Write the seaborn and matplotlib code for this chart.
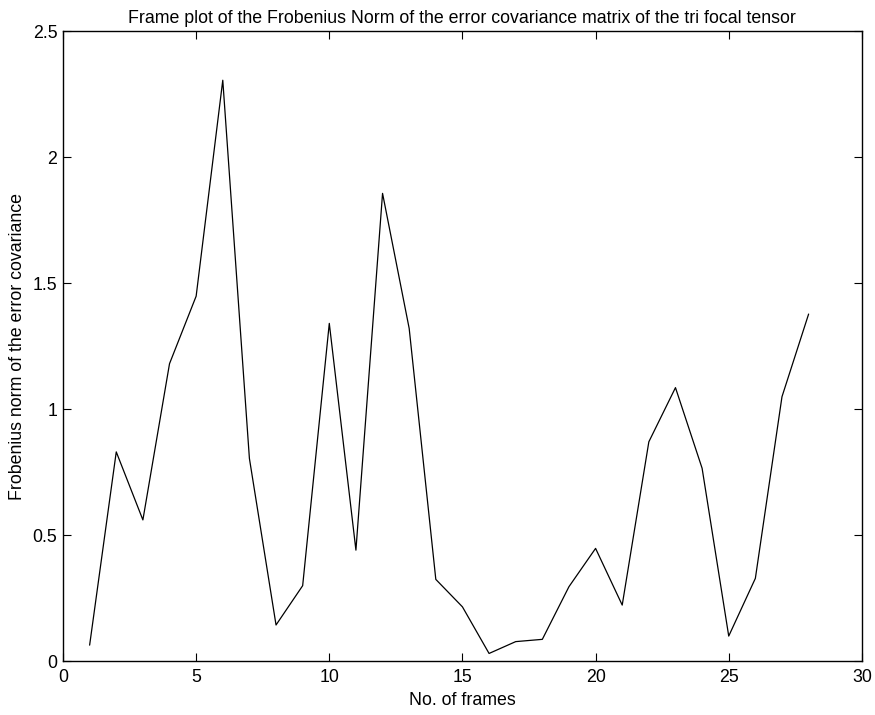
import matplotlib

matplotlib.use("Agg")

import matplotlib.pyplot as plt
import pandas as pd
import seaborn as sns

frames = list(range(1, 29))
frob_norm = [
    0.063, 0.83, 0.56, 1.18, 1.448, 2.305, 0.804, 0.143, 0.299, 1.34,
    0.44, 1.856, 1.32, 0.324, 0.215, 0.03, 0.077, 0.086, 0.295, 0.447,
    0.222, 0.87, 1.085, 0.765, 0.099, 0.328, 1.049, 1.377,
]
x_ticks = [0, 5, 10, 15, 20, 25, 30]
y_ticks = [0, 0.5, 1, 1.5, 2, 2.5]

df = pd.DataFrame({"frame": frames, "norm": frob_norm})

sns.set_style("ticks")
plt.rcParams["font.family"] = ["Liberation Sans", "DejaVu Sans"]
plt.rcParams.update({
    "text.color": "black",
    "axes.labelcolor": "black",
    "xtick.color": "black",
    "ytick.color": "black",
})
fs = 12.8

fig = plt.figure(figsize=(8.75, 7.15), dpi=100)
ax = fig.add_axes([0.072, 0.0755, 0.913, 0.881])
sns.lineplot(data=df, x="frame", y="norm", color="black", linewidth=0.9, ax=ax)

ax.set_xlim(0, 30)
ax.set_ylim(0, 2.5)
ax.set_xticks(x_ticks)
ax.set_xticklabels([str(t) for t in x_ticks])
ax.set_yticks(y_ticks)
ax.set_yticklabels(["0", "0.5", "1", "1.5", "2", "2.5"])
ax.tick_params(direction="in", top=True, right=True, length=6, width=0.8,
               labelsize=fs)
ax.tick_params(axis="x", pad=6)
ax.tick_params(axis="y", pad=4)
for side in ax.spines.values():
    side.set_visible(True)
    side.set_linewidth(1.0)
    side.set_color("black")

ax.set_title("Frame plot of the Frobenius Norm of the error covariance matrix of the tri focal tensor",
             fontsize=fs, pad=6)
ax.set_xlabel("No. of frames", fontsize=fs, labelpad=4)
ax.set_ylabel("Frobenius norm of the error covariance", fontsize=fs, labelpad=5)

fig.savefig("out.png", dpi=100)
plt.close(fig)
